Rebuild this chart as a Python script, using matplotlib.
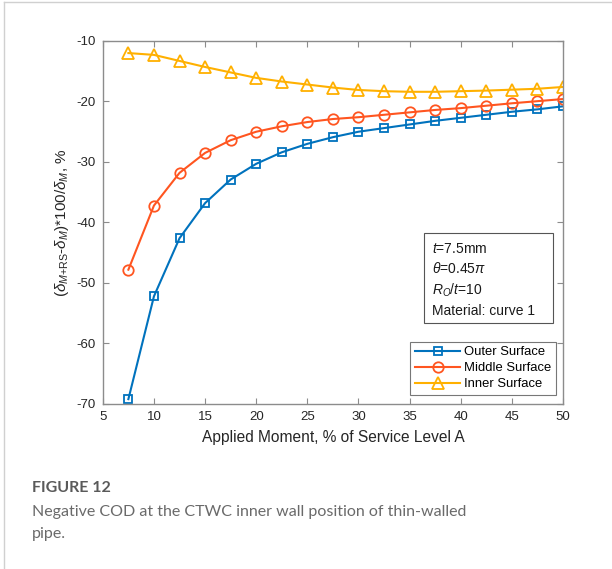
import matplotlib
matplotlib.use("Agg")
import matplotlib.pyplot as plt
from matplotlib.lines import Line2D
from matplotlib.patches import Rectangle

plt.rcParams["font.family"] = ["Liberation Sans", "DejaVu Sans"]
plt.rcParams["mathtext.fontset"] = "custom"
plt.rcParams["mathtext.rm"] = "Liberation Sans"
plt.rcParams["mathtext.it"] = "Liberation Sans:italic"
plt.rcParams["axes.unicode_minus"] = False

# applied moment, % of service level A
moment = [7.5, 10, 12.5, 15, 17.5, 20, 22.5, 25, 27.5, 30,
          32.5, 35, 37.5, 40, 42.5, 45, 47.5, 50]

outer = [-69.2, -52.2, -42.6, -36.8, -32.9, -30.3, -28.4, -27.0, -25.9, -25.0,
         -24.4, -23.8, -23.2, -22.7, -22.2, -21.7, -21.3, -20.8]
middle = [-47.8, -37.2, -31.8, -28.5, -26.4, -25.0, -24.1, -23.4, -22.9, -22.6,
          -22.2, -21.8, -21.4, -21.1, -20.7, -20.3, -19.95, -19.6]
inner = [-12.0, -12.3, -13.3, -14.3, -15.2, -16.1, -16.7, -17.2, -17.7, -18.1,
         -18.3, -18.4, -18.4, -18.3, -18.2, -18.05, -17.9, -17.6]

series = [
    ("Outer Surface", outer, "#0072BD", "s", 6),
    ("Middle Surface", middle, "#FF5520", "o", 7.5),
    ("Inner Surface", inner, "#FFB000", "^", 8),
]

fig = plt.figure(figsize=(6.12, 5.69), dpi=100)
ax = fig.add_axes([0.168, 0.290, 0.752, 0.638])

for name, vals, col, mk, ms in series:
    ax.plot(moment, vals, color=col, marker=mk, markersize=ms,
            markerfacecolor="none", markeredgewidth=1.3, linewidth=1.5, label=name)

ax.set_xlim(5, 50)
ax.set_ylim(-70, -10)
ax.set_xticks(range(5, 51, 5))
ax.set_yticks(range(-70, -9, 10))

axis_gray = "#8c8c8c"
for sp in ax.spines.values():
    sp.set_color(axis_gray)
    sp.set_linewidth(1.0)
ax.tick_params(direction="in", top=True, right=True, length=4, width=0.8,
               color=axis_gray, labelcolor="#262626", labelsize=9.5, pad=5)

ax.set_xlabel("Applied Moment, % of Service Level A", fontsize=11.2, color="#262626", labelpad=5)
ax.set_ylabel(r"$(\delta_{M\mathrm{+RS}}$-$\delta_{M})$*100/$\delta_{M}$, %",
              fontsize=11, color="#262626", labelpad=4)

# parameter box
ax.add_patch(Rectangle((0.698, 0.223), 0.28, 0.248, transform=ax.transAxes,
                       facecolor="white", edgecolor="#555555", linewidth=0.8, zorder=3))
info = "\n".join([
    r"$t$=7.5mm",
    r"$\theta$=0.45$\pi$",
    r"$R_O$/$t$=10",
    "Material: curve 1",
])
ax.text(0.715, 0.447, info, transform=ax.transAxes, fontsize=10, color="#1a1a1a",
        va="top", ha="left", linespacing=1.45, zorder=4)

leg = ax.legend(loc="lower right", bbox_to_anchor=(0.985, 0.025), fontsize=9.4,
                frameon=True, fancybox=False, edgecolor="#555555", borderpad=0.35,
                handlelength=3.5, labelspacing=0.3, handletextpad=0.3,
                borderaxespad=0.0)
leg.get_frame().set_linewidth(0.8)

# caption below the chart
cap_font = ["Lato", "DejaVu Sans"]
fig.text(0.052, 0.135, "FIGURE 12", fontsize=11.5, fontweight="bold", color="#5a5a5a",
         family=cap_font, va="baseline")
fig.text(0.052, 0.093, "Negative COD at the CTWC inner wall position of thin-walled",
         fontsize=11.5, color="#6a6a6a", family=cap_font, va="baseline")
fig.text(0.052, 0.0545, "pipe.", fontsize=11.5, color="#6a6a6a",
         family=cap_font, va="baseline")

# page panel edges
fig.add_artist(Line2D([0.006, 1.0], [0.996, 0.996], transform=fig.transFigure,
                      color="#d0d0d0", linewidth=1.0))
fig.add_artist(Line2D([0.006, 0.006], [0.0, 0.996], transform=fig.transFigure,
                      color="#d0d0d0", linewidth=1.0))

fig.savefig("out.png", dpi=100)
